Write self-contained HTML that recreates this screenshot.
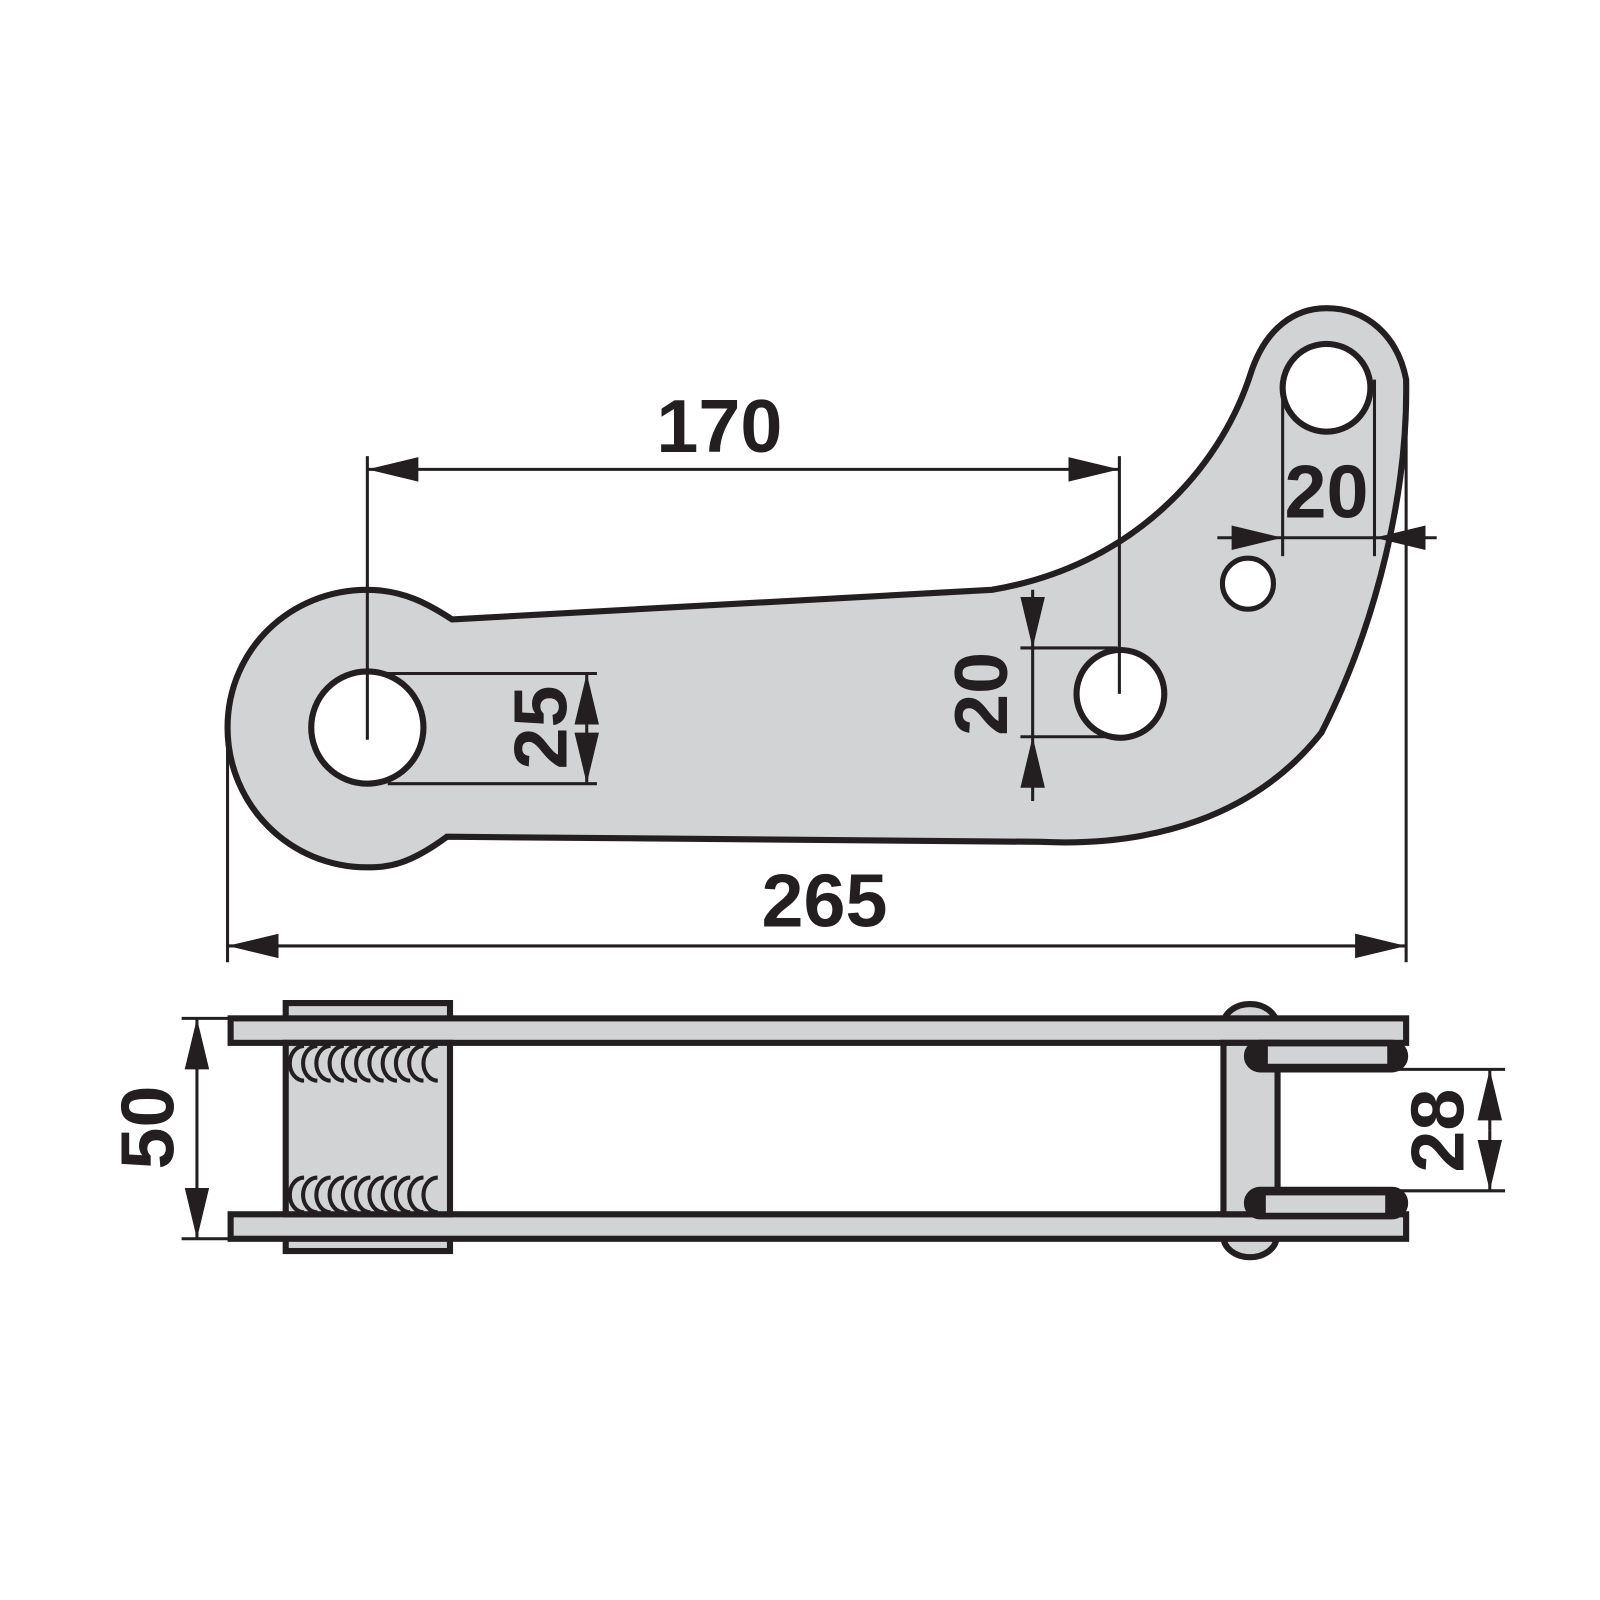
<!DOCTYPE html>
<html><head><meta charset="utf-8"><style>
html,body{margin:0;padding:0;background:#fff;}
svg{display:block;}
text{font-family:"Liberation Sans",sans-serif;font-weight:bold;fill:#231f20;}
</style></head><body>
<svg width="1600" height="1600" viewBox="0 0 1568 1568" xmlns="http://www.w3.org/2000/svg">
<defs>
<marker id="a" viewBox="0 0 50 24" refX="50" refY="12" markerWidth="50" markerHeight="24" markerUnits="userSpaceOnUse" orient="auto-start-reverse"><path d="M0,0 L50,12 L0,24 Z" fill="#231f20"/></marker>
</defs>
<g stroke="#231f20" fill="none">
<path d="M443,607 L972,578 C1110,555 1195,460 1225,368 C1240,320 1270,302 1300,302 C1340,302 1370,330 1378,372 C1380,480 1350,610 1295,718 C1230,800 1130,830 1020,825 L438,820 C400,848 380,850 360,850 C284,850 223,789 223,713 C223,637 284,578 360,578 C395,578 420,592 443,607 Z" fill="#d1d3d4" stroke-width="6"/>
<circle cx="360" cy="713" r="55" fill="#fff" stroke-width="6"/>
<circle cx="1098" cy="680" r="43" fill="#fff" stroke-width="6"/>
<circle cx="1300" cy="380" r="43" fill="#fff" stroke-width="6"/>
<circle cx="1223" cy="572" r="25" fill="#fff" stroke-width="5"/>
<g stroke-width="3">
<line x1="360" y1="447" x2="360" y2="725"/>
<line x1="1097" y1="447" x2="1097" y2="680"/>
<line x1="360" y1="460" x2="1097" y2="460" marker-start="url(#a)" marker-end="url(#a)"/>
<line x1="380" y1="660" x2="585" y2="660"/>
<line x1="380" y1="768" x2="585" y2="768"/>
<line x1="575" y1="713" x2="575" y2="660" marker-end="url(#a)"/>
<line x1="575" y1="713" x2="575" y2="768" marker-end="url(#a)"/>
<line x1="1000" y1="635" x2="1095" y2="635"/>
<line x1="1000" y1="722" x2="1095" y2="722"/>
<line x1="1012" y1="578" x2="1012" y2="635" marker-end="url(#a)"/>
<line x1="1012" y1="785" x2="1012" y2="722" marker-end="url(#a)"/>
<line x1="1012" y1="635" x2="1012" y2="722"/>
<line x1="1257" y1="372" x2="1257" y2="545"/>
<line x1="1347" y1="372" x2="1347" y2="545"/>
<line x1="1193" y1="527" x2="1257" y2="527" marker-end="url(#a)"/>
<line x1="1408" y1="527" x2="1347" y2="527" marker-end="url(#a)"/>
<line x1="1257" y1="527" x2="1347" y2="527"/>
<line x1="223" y1="713" x2="223" y2="943"/>
<line x1="1378" y1="372" x2="1378" y2="943"/>
<line x1="223" y1="927" x2="1378" y2="927" marker-start="url(#a)" marker-end="url(#a)"/>
<line x1="178" y1="998" x2="226" y2="998"/>
<line x1="178" y1="1214" x2="226" y2="1214"/>
<line x1="193" y1="998" x2="193" y2="1214" marker-start="url(#a)" marker-end="url(#a)"/>
<line x1="1365" y1="1048" x2="1475" y2="1048"/>
<line x1="1365" y1="1167" x2="1475" y2="1167"/>
<line x1="1460" y1="1108" x2="1460" y2="1048" marker-end="url(#a)"/>
<line x1="1460" y1="1108" x2="1460" y2="1167" marker-end="url(#a)"/>
</g>
<g stroke-width="6" fill="#d1d3d4">
<rect x="280" y="983" width="161" height="20"/>
<rect x="280" y="1210" width="161" height="16"/>
<ellipse cx="1225" cy="1004" rx="26" ry="20"/>
<ellipse cx="1225" cy="1212" rx="26" ry="20"/>
<rect x="226" y="998" width="1152" height="24"/>
<rect x="226" y="1190" width="1152" height="24"/>
<rect x="280" y="1022" width="161" height="168"/>
<rect x="1199" y="1022" width="53" height="168"/>
<rect x="1222" y="1022" width="155" height="26" rx="13" fill="#231f20"/>
<rect x="1222" y="1166" width="155" height="26" rx="13" fill="#231f20"/>
</g>
<rect x="1242" y="1025" width="118" height="18" fill="#d1d3d4"/>
<rect x="1240" y="1171" width="118" height="18" fill="#d1d3d4"/>
<g stroke-width="4">
<path d="M298,1025 a14,17 0 0 0 0,34 M311,1025 a14,17 0 0 0 0,34 M324,1025 a14,17 0 0 0 0,34 M337,1025 a14,17 0 0 0 0,34 M350,1025 a14,17 0 0 0 0,34 M363,1025 a14,17 0 0 0 0,34 M376,1025 a14,17 0 0 0 0,34 M389,1025 a14,17 0 0 0 0,34 M402,1025 a14,17 0 0 0 0,34 M415,1025 a14,17 0 0 0 0,34 M429,1025 a14,17 0 0 0 0,34"/>
<path d="M298,1154 a14,17 0 0 0 0,34 M311,1154 a14,17 0 0 0 0,34 M324,1154 a14,17 0 0 0 0,34 M337,1154 a14,17 0 0 0 0,34 M350,1154 a14,17 0 0 0 0,34 M363,1154 a14,17 0 0 0 0,34 M376,1154 a14,17 0 0 0 0,34 M389,1154 a14,17 0 0 0 0,34 M402,1154 a14,17 0 0 0 0,34 M415,1154 a14,17 0 0 0 0,34 M429,1154 a14,17 0 0 0 0,34"/>
</g>
</g>
<g font-size="74" text-anchor="middle">
<text x="705" y="443">170</text>
<text x="808" y="908">265</text>
<text x="1300" y="507">20</text>
<text transform="translate(555,713) rotate(-90)">25</text>
<text transform="translate(987,680) rotate(-90)">20</text>
<text transform="translate(170,1105) rotate(-90)">50</text>
<text transform="translate(1434,1108) rotate(-90)">28</text>
</g>
</svg>
</body></html>
